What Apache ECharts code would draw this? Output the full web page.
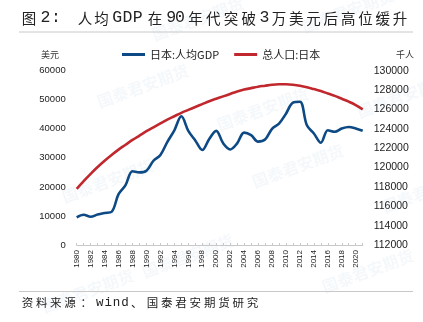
<!DOCTYPE html>
<html>
<head>
<meta charset="utf-8">
<script src="https://cdn.jsdelivr.net/npm/echarts@6/dist/echarts.min.js"></script>
<style>
  html, body { margin: 0; padding: 0; background: #fff; }
  #chart { width: 423px; height: 322px; }
</style>
</head>
<body>
<div id="chart"></div>
<script>
// Years 1980–2021
const years = [];
for (let y = 1980; y <= 2021; y++) years.push(String(y));

// 日本:人均GDP (美元)
const gdpPerCapita = [
  9500, 10400, 9700, 10500, 11000, 11400, 17500, 20600, 25400, 25000,
  25600, 29000, 31000, 35500, 39500, 44300, 39300, 36000, 32700, 36500,
  39300, 35000, 32900, 35000, 38700, 37800, 35600, 36300, 40000, 41800,
  45200, 49000, 49300, 41200, 38400, 35200, 39500, 39000, 40100, 40600,
  40100, 39300
];

// 总人口:日本 (千人)
const population = [
  117800, 118600, 119350, 120050, 120700, 121300, 121850, 122350, 122850, 123300,
  123750, 124150, 124550, 124950, 125300, 125650, 125950, 126250, 126550, 126850,
  127100, 127350, 127600, 127850, 128050, 128200, 128350, 128450, 128550, 128600,
  128600, 128550, 128450, 128300, 128100, 127900, 127650, 127400, 127100, 126800,
  126450, 126000
];

const seriesNames = ['日本:人均GDP', '总人口:日本'];

// Title and source line are set character by character to get the wide,
// evenly spaced typesetting: [text, left x, advance per character]
const titleRuns = [
  ['图', 21.7, 17], ['2', 40.5, 9], [':', 51, 9], ['人均', 77.7, 16.6],
  ['GDP', 112.2, 10.3], ['在', 147.7, 17], ['90', 166.2, 8.8],
  ['年代突破', 188.3, 17.7], ['3', 259.5, 9], ['万美元后高位缓升', 271.7, 17.3]
];
const sourceRuns = [
  ['资料来源', 21.7, 14.2], ['：', 80.5, 14], ['wind', 96, 8.4],
  ['、', 131, 14], ['国泰君安期货研究', 146.7, 14.3]
];

const BLUE = '#0d4a85';
const RED = '#c0282e';
const CJK = '"Noto Sans CJK SC", sans-serif';
const LATIN = 'Arial, "Liberation Sans", sans-serif';
const MONO = '"Liberation Mono", "DejaVu Sans Mono", monospace';

function setRuns(runs, y, size, latinSize, color) {
  const out = [];
  runs.forEach(([txt, x0, step]) => {
    Array.from(txt).forEach((ch, i) => {
      const latin = /[A-Za-z0-9:]/.test(ch);
      out.push({
        type: 'text', x: x0 + i * step, y, silent: true,
        style: {
          text: ch, fill: color,
          font: (latin ? latinSize + 'px ' + MONO : size + 'px ' + CJK),
          align: 'left', verticalAlign: 'middle'
        }
      });
    });
  });
  return out;
}

const chart = echarts.init(document.getElementById('chart'), null, { renderer: 'canvas' });

// faint company watermark marks scattered across the page
const marks = [
  [150, 28], [300, 20], [95, 95], [215, 118], [355, 105],
  [60, 190], [250, 175], [380, 200], [140, 265], [320, 280], [40, 300]
].map(([x, y]) => ({
  type: 'text', x, y, rotation: 0.35, silent: true, z: 0,
  style: { text: '国泰君安期货', fill: 'rgba(120,160,200,0.07)', font: 'bold 16px ' + CJK }
}));

chart.setOption({
  animation: false,
  backgroundColor: '#fff',
  graphic: [
    ...marks,
    ...setRuns(titleRuns, 18, 14.5, 16.5, '#222'),
    { type: 'line', shape: { x1: 19, y1: 32, x2: 413, y2: 32 }, style: { stroke: '#c8c8c8', lineWidth: 1 } },
    { type: 'line', shape: { x1: 19, y1: 291.5, x2: 413, y2: 291.5 }, style: { stroke: '#c8c8c8', lineWidth: 1 } },
    ...setRuns(sourceRuns, 303, 11.5, 12.5, '#222'),
    { type: 'text', x: 50, y: 55, style: { text: '美元', fill: '#333', font: '9px ' + CJK, align: 'center', verticalAlign: 'middle' } },
    { type: 'text', x: 405, y: 55, style: { text: '千人', fill: '#333', font: '9px ' + CJK, align: 'center', verticalAlign: 'middle' } }
  ],
  legend: {
    top: 49,
    left: 122,
    padding: 0,
    itemWidth: 23,
    itemHeight: 3,
    itemGap: 15,
    icon: 'rect',
    textStyle: { fontSize: 11, color: '#222', fontFamily: CJK },
    data: seriesNames
  },
  grid: { left: 76.7, right: 60.3, top: 70.7, bottom: 77, containLabel: false },
  xAxis: {
    type: 'category',
    data: years,
    boundaryGap: false,
    axisLine: { lineStyle: { color: '#c8c8c8' } },
    axisTick: { show: true, interval: 0, length: 2, inside: true, lineStyle: { color: '#c8c8c8' } },
    axisLabel: { interval: 1, rotate: 90, fontSize: 8, color: '#222', fontFamily: LATIN, margin: 5 },
    splitLine: { show: false }
  },
  yAxis: [
    {
      type: 'value', min: 0, max: 60000, interval: 10000,
      axisLine: { show: false }, axisTick: { show: false }, splitLine: { show: false },
      axisLabel: { fontSize: 9.5, color: '#222', fontFamily: LATIN, margin: 11, formatter: v => String(v) }
    },
    {
      type: 'value', min: 112000, max: 130000, interval: 2000,
      axisLine: { show: false }, axisTick: { show: false }, splitLine: { show: false },
      axisLabel: { fontSize: 10.5, color: '#222', fontFamily: LATIN, margin: 11, formatter: v => String(v) }
    }
  ],
  series: [
    {
      name: seriesNames[0], type: 'line', yAxisIndex: 0, data: gdpPerCapita,
      smooth: 0.35, symbol: 'none', lineStyle: { color: BLUE, width: 2.6 }, itemStyle: { color: BLUE }
    },
    {
      name: seriesNames[1], type: 'line', yAxisIndex: 1, data: population,
      smooth: 0.35, symbol: 'none', lineStyle: { color: RED, width: 2.6 }, itemStyle: { color: RED }
    }
  ]
});
</script>
</body>
</html>
